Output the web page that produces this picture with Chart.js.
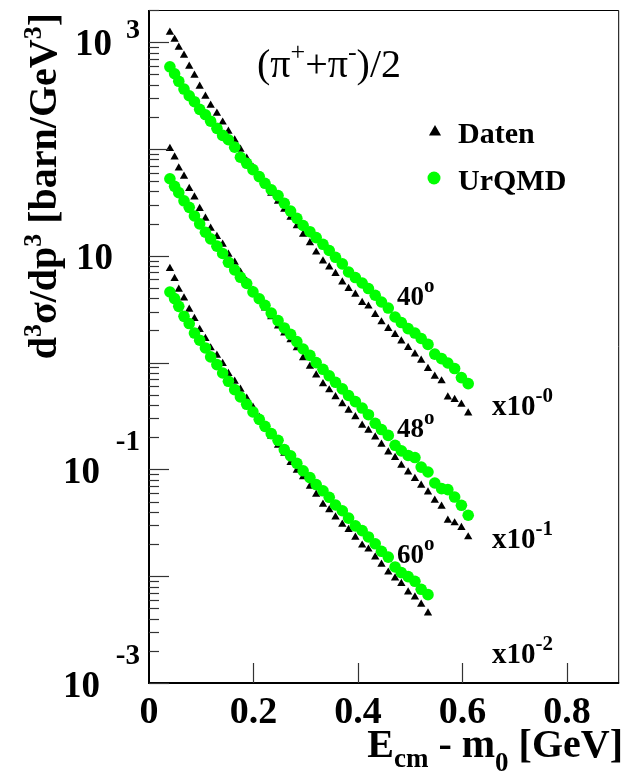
<!DOCTYPE html>
<html>
<head>
<meta charset="utf-8">
<script src="https://cdn.jsdelivr.net/npm/chart.js@4.4.1/dist/chart.umd.min.js"></script>
<style>
html,body{margin:0;padding:0;background:#ffffff;}
canvas{display:block;}
</style>
</head>
<body>
<canvas id="c" width="625" height="776"></canvas>
<script>
// ---- data (plotted values, already scaled) ----
// kinetic energy bins E_cm - m0 [GeV]
const xValues = [0.040,0.049,0.057,0.067,0.077,0.087,0.097,0.108,0.118,0.130,
                 0.141,0.152,0.164,0.175,0.187,0.199,0.211,0.222,0.234,0.247,
                 0.259,0.271,0.283,0.295,0.308,0.320,0.333,0.345,0.357,0.370,
                 0.382,0.395,0.408,0.420,0.433,0.445,0.458,0.471,0.483,0.496,
                 0.509,0.521,0.534,0.547,0.560,0.572,0.585,0.598,0.611];

// 40 deg, x10^-0
const daten40 = [1237,1064,895,753,594,490,386,311,256,216,
                 178,146,121,99.3,81.8,67.3,55.5,45.7,38.5,32.4,
                 27.2,22.9,19.1,15.9,13.2,10.8,8.93,7.85,6.81,5.68,
                 4.93,4.36,3.65,3.37,2.81,2.40,2.08,1.83,1.59,1.38,
                 1.20,1.05,0.879,0.744,0.673,0.476,0.450,0.406,0.337];
const urqmd40 = [588,506,430,364,315,277,235,209,182,156,
                 134,122,104,83.6,73.4,64.1,55.1,47.7,41.5,36.6,
                 31.0,26.2,22.4,19.2,16.8,14.8,12.8,11.2,9.68,8.39,
                 7.05,6.25,5.56,4.93,4.27,3.69,3.24,2.67,2.37,2.08,
                 1.89,1.68,1.48,1.20,1.09,0.991,0.879,0.723,0.635];

// 48 deg, x10^-1
const daten48 = [100.8,84.1,66.3,55.5,42.6,35.5,27.7,22.4,18.1,15.1,
                 12.8,10.3,8.69,7.00,5.77,4.75,3.95,3.24,2.68,2.19,
                 1.89,1.63,1.37,1.11,0.923,0.765,0.633,0.554,0.478,0.411,
                 0.357,0.311,0.259,0.232,0.201,0.172,0.145,0.129,0.109,0.0945,
                 0.0820,0.0710,0.0614,0.0513,0.0451,0.0334,0.0315,0.0285,0.0233];
const urqmd48 = [52.6,44.7,39.0,32.7,28.4,23.6,19.9,16.6,14.4,12.3,
                 10.5,8.69,7.38,6.29,5.50,4.59,3.96,3.44,2.91,2.47,
                 2.11,1.84,1.57,1.34,1.17,1.00,0.865,0.752,0.654,0.567,
                 0.492,0.431,0.375,0.325,0.270,0.236,0.208,0.168,0.149,0.135,
                 0.129,0.105,0.0945,0.0746,0.0661,0.0646,0.0551,0.0461,0.0372];

// 60 deg, x10^-2 (first 43 bins)
const daten60 = [7.58,6.11,4.86,4.02,3.15,2.58,2.04,1.68,1.37,1.17,
                 0.978,0.788,0.668,0.562,0.463,0.381,0.307,0.248,0.204,0.168,
                 0.141,0.116,0.0980,0.0852,0.0694,0.0584,0.0471,0.0418,0.0358,0.0306,
                 0.0273,0.0231,0.0195,0.0179,0.0151,0.0129,0.0109,0.00962,0.00852,0.00711,
                 0.00638,0.00546,0.00452];
const urqmd60 = [4.58,3.97,3.36,2.71,2.32,1.89,1.62,1.37,1.13,0.957,
                 0.799,0.668,0.558,0.476,0.407,0.345,0.294,0.253,0.216,0.187,
                 0.153,0.134,0.114,0.0970,0.0838,0.0721,0.0630,0.0548,0.0464,0.0410,
                 0.0350,0.0296,0.0267,0.0233,0.0201,0.0171,0.0151,0.0122,0.0108,0.00991,
                 0.00896,0.00754,0.00672];

const angleLabels = ['40', '48', '60'];
const scaleExponents = ['-0', '-1', '-2'];
const legendLabels = ['Daten', 'UrQMD'];
const xTickValues = [0, 0.2, 0.4, 0.6, 0.8];
const xTickLabels = ['0', '0.2', '0.4', '0.6', '0.8'];
const yLabelValues = [1e3, 1e1, 1e-1, 1e-3];
const yLabelExponents = ['3', '', '-1', '-3'];

// ---- build datasets ----
function pts(ys) { return ys.map((y, i) => ({ x: xValues[i], y: y })); }
const GREEN = '#00ff00';
function tri(ys) {
  return { data: pts(ys), pointStyle: 'triangle', pointRadius: 4.8, pointHoverRadius: 4.8,
           backgroundColor: '#000000', borderColor: '#000000', borderWidth: 0, order: 2 };
}
function circ(ys) {
  return { data: pts(ys), pointStyle: 'circle', pointRadius: 5.8, pointHoverRadius: 5.8,
           backgroundColor: GREEN, borderColor: GREEN, borderWidth: 0, order: 1 };
}

const SERIF = '"Liberation Serif", "Times New Roman", Times, serif';
function font(size, bold) { return (bold ? 'bold ' : '') + size + 'px ' + SERIF; }

function drawRich(ctx, parts, x, y, align) {
  let total = 0;
  parts.forEach(p => { ctx.font = p.font; p.w = ctx.measureText(p.t).width; total += p.w; });
  let cx = align === 'right' ? x - total : (align === 'center' ? x - total / 2 : x);
  ctx.textAlign = 'left';
  ctx.textBaseline = 'alphabetic';
  parts.forEach(p => { ctx.font = p.font; ctx.fillText(p.t, cx, y + (p.dy || 0)); cx += p.w; });
}

const decorPlugin = {
  id: 'decor',
  afterDraw(chart) {
    const ctx = chart.ctx;
    const a = chart.chartArea;
    const xs = chart.scales.x, ys = chart.scales.y;
    ctx.save();
    ctx.fillStyle = '#000';
    ctx.strokeStyle = '#000';

    // frame
    ctx.lineWidth = 1;
    ctx.beginPath();
    ctx.moveTo(a.left, a.top + 0.5); ctx.lineTo(a.right - 0.5, a.top + 0.5);
    ctx.lineTo(a.right - 0.5, a.bottom);
    ctx.stroke();
    ctx.lineWidth = 2;
    ctx.beginPath();
    ctx.moveTo(a.left, a.top); ctx.lineTo(a.left, a.bottom); ctx.lineTo(a.right, a.bottom);
    ctx.stroke();

    // y ticks (log, inside)
    ctx.lineWidth = 1.2;
    ctx.strokeStyle = '#333';
    for (let d = -3; d <= 3; d++) {
      for (let m = 1; m <= 9; m++) {
        const v = m * Math.pow(10, d);
        if (v > ys.max * 1.0001) continue;
        const py = ys.getPixelForValue(v);
        const len = m === 1 ? 20 : 10;
        ctx.beginPath();
        ctx.moveTo(a.left, Math.round(py) + 0.5);
        ctx.lineTo(a.left + len, Math.round(py) + 0.5);
        ctx.stroke();
      }
    }
    // x ticks
    xTickValues.forEach(v => {
      if (v === 0) return;
      const px = xs.getPixelForValue(v);
      ctx.beginPath();
      ctx.moveTo(Math.round(px) + 0.5, a.bottom);
      ctx.lineTo(Math.round(px) + 0.5, a.bottom - 20);
      ctx.stroke();
    });

    // x tick labels
    ctx.fillStyle = '#000';
    ctx.font = font(38, true);
    ctx.textAlign = 'center';
    ctx.textBaseline = 'alphabetic';
    xTickValues.forEach((v, i) => {
      ctx.fillText(xTickLabels[i], xs.getPixelForValue(v), 723);
    });

    // y tick labels 10^n
    yLabelValues.forEach((v, i) => {
      const py = ys.getPixelForValue(v);
      const e = yLabelExponents[i];
      ctx.font = font(37, true);
      ctx.textAlign = 'right';
      if (e === '') {
        ctx.fillText('10', 113, py + 13);
      } else if (e.charAt(0) === '-') {
        ctx.fillText('10', 100, py + 14);
        ctx.font = font(29, true);
        ctx.fillText(e, 140, py - 19);
      } else {
        ctx.fillText('10', 112, py + 13);
        ctx.font = font(28, true);
        ctx.fillText(e, 140, py - 4);
      }
    });

    // x axis title
    drawRich(ctx, [
      { t: 'E', font: font(40, true) },
      { t: 'cm', font: font(27, true), dy: 10 },
      { t: ' - m', font: font(40, true) },
      { t: '0', font: font(27, true), dy: 14 },
      { t: ' [GeV]', font: font(40, true) }
    ], 623, 757, 'right');

    // y axis title (rotated)
    ctx.save();
    ctx.translate(56, 13);
    ctx.rotate(-Math.PI / 2);
    drawRich(ctx, [
      { t: 'd', font: font(40, true) },
      { t: '3', font: font(26, true), dy: -15 },
      { t: 'σ/dp', font: font(40, true) },
      { t: '3', font: font(26, true), dy: -15 },
      { t: ' [barn/GeV', font: font(40, true) },
      { t: '3', font: font(26, true), dy: -15 },
      { t: ']', font: font(40, true) }
    ], 0, 0, 'right');
    ctx.restore();

    // plot title
    drawRich(ctx, [
      { t: '(π', font: font(40, false) },
      { t: '+', font: font(26, false), dy: -17 },
      { t: '+π', font: font(40, false) },
      { t: '-', font: font(26, false), dy: -17 },
      { t: ')/2', font: font(40, false) }
    ], 329, 77, 'center');

    // legend
    ctx.fillStyle = '#000';
    const tx = 435, ty = 132, tr = 7;
    ctx.beginPath();
    ctx.moveTo(tx, ty - tr);
    ctx.lineTo(tx + tr * 0.866, ty + tr * 0.5);
    ctx.lineTo(tx - tr * 0.866, ty + tr * 0.5);
    ctx.closePath();
    ctx.fill();
    ctx.fillStyle = GREEN;
    ctx.beginPath();
    ctx.arc(434, 178, 6.5, 0, Math.PI * 2);
    ctx.fill();
    ctx.fillStyle = '#000';
    ctx.font = font(30, true);
    ctx.textAlign = 'left';
    ctx.fillText(legendLabels[0], 458, 143);
    ctx.fillText(legendLabels[1], 458, 190);

    // angle labels and scale factors
    const angleBase = [305, 437, 563];
    const scaleBase = [415, 548, 663];
    angleLabels.forEach((t, i) => {
      drawRich(ctx, [
        { t: t, font: font(27, true) },
        { t: 'o', font: font(21, true), dy: -13 }
      ], 397, angleBase[i], 'left');
      drawRich(ctx, [
        { t: 'x10', font: font(29, true) },
        { t: scaleExponents[i], font: font(21, true), dy: -13 }
      ], 492, scaleBase[i], 'left');
    });

    ctx.restore();
  }
};

new Chart(document.getElementById('c'), {
  type: 'scatter',
  data: {
    datasets: [
      tri(daten40), circ(urqmd40),
      tri(daten48), circ(urqmd48),
      tri(daten60), circ(urqmd60)
    ]
  },
  options: {
    responsive: false,
    maintainAspectRatio: false,
    animation: false,
    events: [],
    layout: { padding: { left: 149, right: 2, top: 10, bottom: 93 } },
    plugins: { legend: { display: false }, tooltip: { enabled: false } },
    scales: {
      x: { type: 'linear', min: 0, max: 0.9, display: false },
      y: { type: 'logarithmic', min: 0.001, max: 2000, display: false }
    }
  },
  plugins: [decorPlugin]
});
</script>
</body>
</html>
